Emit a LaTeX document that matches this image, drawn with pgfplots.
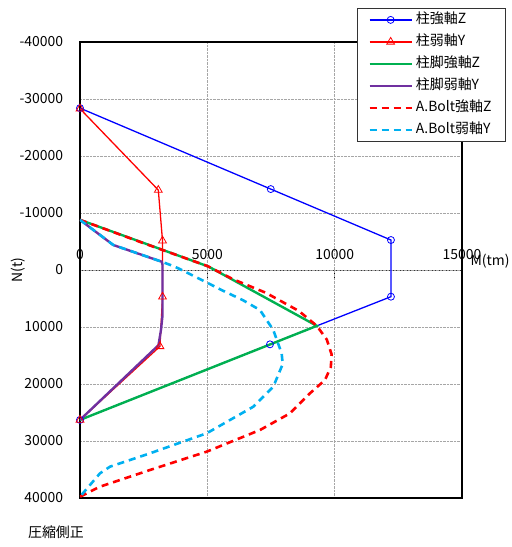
\documentclass[border=0pt]{standalone}
\usepackage{fontspec}
\setmainfont{Noto Sans CJK JP}
\usepackage{pgfplots}
\pgfplotsset{compat=1.18}
\usetikzlibrary{calc}
\definecolor{cblue}{RGB}{0,0,255}
\definecolor{cred}{RGB}{255,0,0}
\definecolor{cgreen}{RGB}{0,176,80}
\definecolor{cpurple}{RGB}{112,48,160}
\definecolor{ccyan}{RGB}{0,176,240}
\newcommand{\fs}{\fontsize{14}{16}\selectfont}
\begin{document}
\fs
\begin{tikzpicture}
% helper axis: the zero line (upper half of the plot) with x tick labels
\begin{axis}[
  name=ax0, at={(0,228bp)}, anchor=south west,
  scale only axis, width=382bp, height=228bp,
  xmin=0, xmax=15000, ymin=0, ymax=1,
  scaled ticks=false,
  axis x line=bottom, axis y line=none,
  x axis line style={-, black!80, line width=0.8pt},
  xtick={0,5000,10000,15000},
  xtick style={draw=black, line width=0.8pt},
  major tick length=10bp, xtick align=outside,
  xticklabel style={anchor=south, yshift=15bp, font=\fs},
  /pgf/number format/.cd, 1000 sep={}, assume math mode=true,
]
\addplot[draw=none] coordinates {(0,0.5)};
\end{axis}
\begin{axis}[
  name=ax, at={(0,0)}, anchor=south west,
  scale only axis, width=382bp, height=456bp,
  xmin=0, xmax=15000, ymin=-40000, ymax=40000, y dir=reverse,
  scaled ticks=false,
  xtick={0,5000,10000,15000}, xticklabels={},
  ytick={-40000,-30000,-20000,-10000,0,10000,20000,30000,40000},
  xtick style={draw=none}, ytick style={draw=none},
  xmajorgrids, ymajorgrids,
  grid style={black!35, densely dotted, line width=0.7pt},
  axis line style={black, line width=1.4pt},
  yticklabel style={font=\fs, xshift=-12bp},
  /pgf/number format/.cd, 1000 sep={}, assume math mode=true,
  /pgfplots/.cd,
  legend style={at={(rel axis cs:0.725,1.0746)}, anchor=north west,
    draw=black!80, line width=0.8pt, fill=white, font=\fs,
    inner xsep=11bp, inner ysep=3bp,
    nodes={inner ysep=2bp, inner xsep=3bp, text height=10bp, text depth=3bp},
    row sep=5bp},
  legend cell align=left,
  legend image code/.code={\draw[mark repeat=2,mark phase=2,#1] plot coordinates {(0bp,0bp) (21bp,0bp) (42bp,0bp)};},
]
\addplot[cblue, line width=1.3pt, mark=o, mark size=3.5bp, mark options={solid, line width=0.8pt}] coordinates {
(0,-28400) (7490,-14200) (12210,-5260) (12210,4680) (7460,13040) (0,26300)};
\addlegendentry{柱強軸Z}
\addplot[cred, line width=1.3pt, mark=triangle, mark size=4.5bp, mark options={solid, line width=0.8pt}] coordinates {
(0,-28300) (3075,-14030) (3240,-5150) (3240,4700) (3140,13400) (0,26300)};
\addlegendentry{柱弱軸Y}
\addplot[cgreen, line width=2.4pt] coordinates {
(0,-8800) (5050,-600) (9300,9800) (0,26300)};
\addlegendentry{柱脚強軸Z}
\addplot[cpurple, line width=2.4pt] coordinates {
(0,-8800) (1300,-4400) (3210,-1450) (3240,-900) (3240,8000) (3180,10500) (3080,13200) (0,26300)};
\addlegendentry{柱脚弱軸Y}
\addplot[cred, line width=2.6pt, dash pattern=on 7bp off 5bp] coordinates {
(0,-8800) (2500,-4700) (5000,-700) (6000,1600) (7300,4000) (8600,7200) (9300,9800) (9690,12200) (9880,14800) (9850,17000) (9620,19300) (9030,21630) (8245,25150) (7067,28070) (4974,31870) (2748,35090) (785,38010) (0,39770)};
\addlegendentry{A.Bolt強軸Z}
\addplot[ccyan, line width=2.6pt, dash pattern=on 7bp off 5bp] coordinates {
(0,-8800) (1310,-4390) (3206,-1460) (3730,-580) (4650,1460) (5600,3600) (6400,5300) (7067,7020) (7590,10530) (7918,14620) (7960,16500) (7591,20470) (6806,23980) (4974,28650) (2748,32160) (1178,34500) (785,35670) (0,39770)};
\addlegendentry{A.Bolt弱軸Y}
\end{axis}
\node[rotate=90, font=\fs] at (-62bp,228bp) {N(t)};
\node[font=\fs] at (410bp,237bp) {M(tm)};
\node[font=\fs] at (-24bp,-34bp) {圧縮側正};
\pgfresetboundingbox
\path (-80bp,-49bp) rectangle (432bp,498bp);
\end{tikzpicture}
\end{document}
